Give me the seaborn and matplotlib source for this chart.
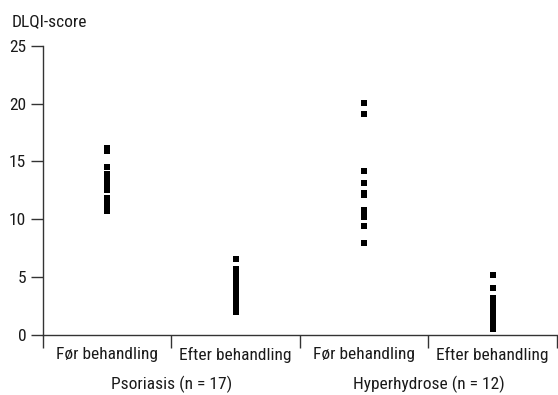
import matplotlib
matplotlib.use("Agg")
import matplotlib.pyplot as plt
import matplotlib.transforms as mtransforms
from matplotlib import font_manager as fm
from matplotlib.ticker import FixedLocator
import seaborn as sns
import pandas as pd

# ---- data ----
categories = ["Psoriasis før", "Psoriasis efter", "Hyperhydrose før", "Hyperhydrose efter"]
tick_labels = ["Før behandling", "Efter behandling", "Før behandling", "Efter behandling"]
group_labels = ["Psoriasis (n = 17)", "Hyperhydrose (n = 12)"]
psoriasis_foer = [16.2, 15.9, 14.5, 13.9, 13.7, 13.4, 13.2, 13.0, 12.8, 12.5,
                  11.8, 11.6, 11.4, 11.2, 11.0, 10.9, 10.7]
psoriasis_efter = [6.6, 5.7, 5.4, 5.2, 5.0, 4.7, 4.5, 4.2, 4.0, 3.7, 3.5,
                   3.2, 3.0, 2.7, 2.5, 2.2, 2.0]
hyper_foer = [20.05, 19.1, 14.15, 13.1, 12.3, 12.1, 10.8, 10.6, 10.4, 10.2, 9.45, 7.93]
hyper_efter = [5.2, 4.05, 3.2, 2.9, 2.5, 2.2, 1.8, 1.4, 1.2, 1.0, 0.7, 0.5]
y_ticks = [0, 5, 10, 15, 20, 25]
y_title = "DLQI-score"

series = [psoriasis_foer, psoriasis_efter, hyper_foer, hyper_efter]
df = pd.DataFrame({
    "group": [c for c, s in zip(categories, series) for _ in s],
    "score": [v for s in series for v in s],
})

sns.set_style("white")

# pick a narrow font if one is installed
font_kw = None
for fam in ["Liberation Sans Narrow", "Roboto Condensed", "Open Sans Condensed"]:
    try:
        fm.findfont(fm.FontProperties(family=fam), fallback_to_default=False)
        font_kw = dict(family=[fam, "DejaVu Sans"], stretch="normal", size=12.5)
        break
    except Exception:
        pass
if font_kw is None:
    p = fm.findfont(fm.FontProperties(family="DejaVu Sans", stretch="condensed"))
    if "ondensed" in p:
        font_kw = dict(family=["DejaVu Sans"], stretch="condensed", size=11)
    else:
        font_kw = dict(family=["Roboto", "DejaVu Sans"], stretch="normal", size=10.5)

plt.rcParams["font.family"] = font_kw["family"]
plt.rcParams["font.stretch"] = font_kw["stretch"]
fs = font_kw["size"]
txt_c = "#1a1a1a"

fig = plt.figure(figsize=(5.58, 3.95), dpi=100)
ax = fig.add_axes([0.077, 0.152, 0.921, 0.732])

sns.stripplot(data=df, x="group", y="score", order=categories, jitter=False,
              marker="s", color="black", size=4.2, linewidth=0, ax=ax)

line_c = "#333333"
ax.set_xlim(-0.5, 3.5)
ax.set_ylim(0, 25)
ax.set_yticks(y_ticks)
ax.set_yticklabels([str(t) for t in y_ticks], fontsize=fs, color=txt_c)
ax.set_xticks(range(len(categories)))
ax.set_xticklabels(tick_labels, fontsize=fs, color=txt_c)
ax.xaxis.set_minor_locator(FixedLocator([-0.5, 0.5, 1.5, 2.5, 3.5]))
ax.tick_params(axis="x", which="major", bottom=True, length=0, pad=9)
ax.tick_params(axis="x", which="minor", bottom=True, length=9, width=1,
               color=line_c, direction="out")
ax.tick_params(axis="y", which="major", left=True, length=9, width=1,
               color=line_c, pad=3)
ax.set_xlabel("")
ax.set_ylabel("")
for s in ["top", "right"]:
    ax.spines[s].set_visible(False)
for s in ["left", "bottom"]:
    ax.spines[s].set_color(line_c)
    ax.spines[s].set_linewidth(1)

trans = mtransforms.blended_transform_factory(ax.transData, ax.transAxes)
ax.text(0.5, -0.142, group_labels[0], transform=trans, ha="center", va="top",
        fontsize=fs, color=txt_c)
ax.text(2.5, -0.142, group_labels[1], transform=trans, ha="center", va="top",
        fontsize=fs, color=txt_c)

fig.text(12 / 558, 1 - 22 / 395, y_title, ha="left", va="center", fontsize=fs, color=txt_c)

fig.savefig("out.png", dpi=100)
